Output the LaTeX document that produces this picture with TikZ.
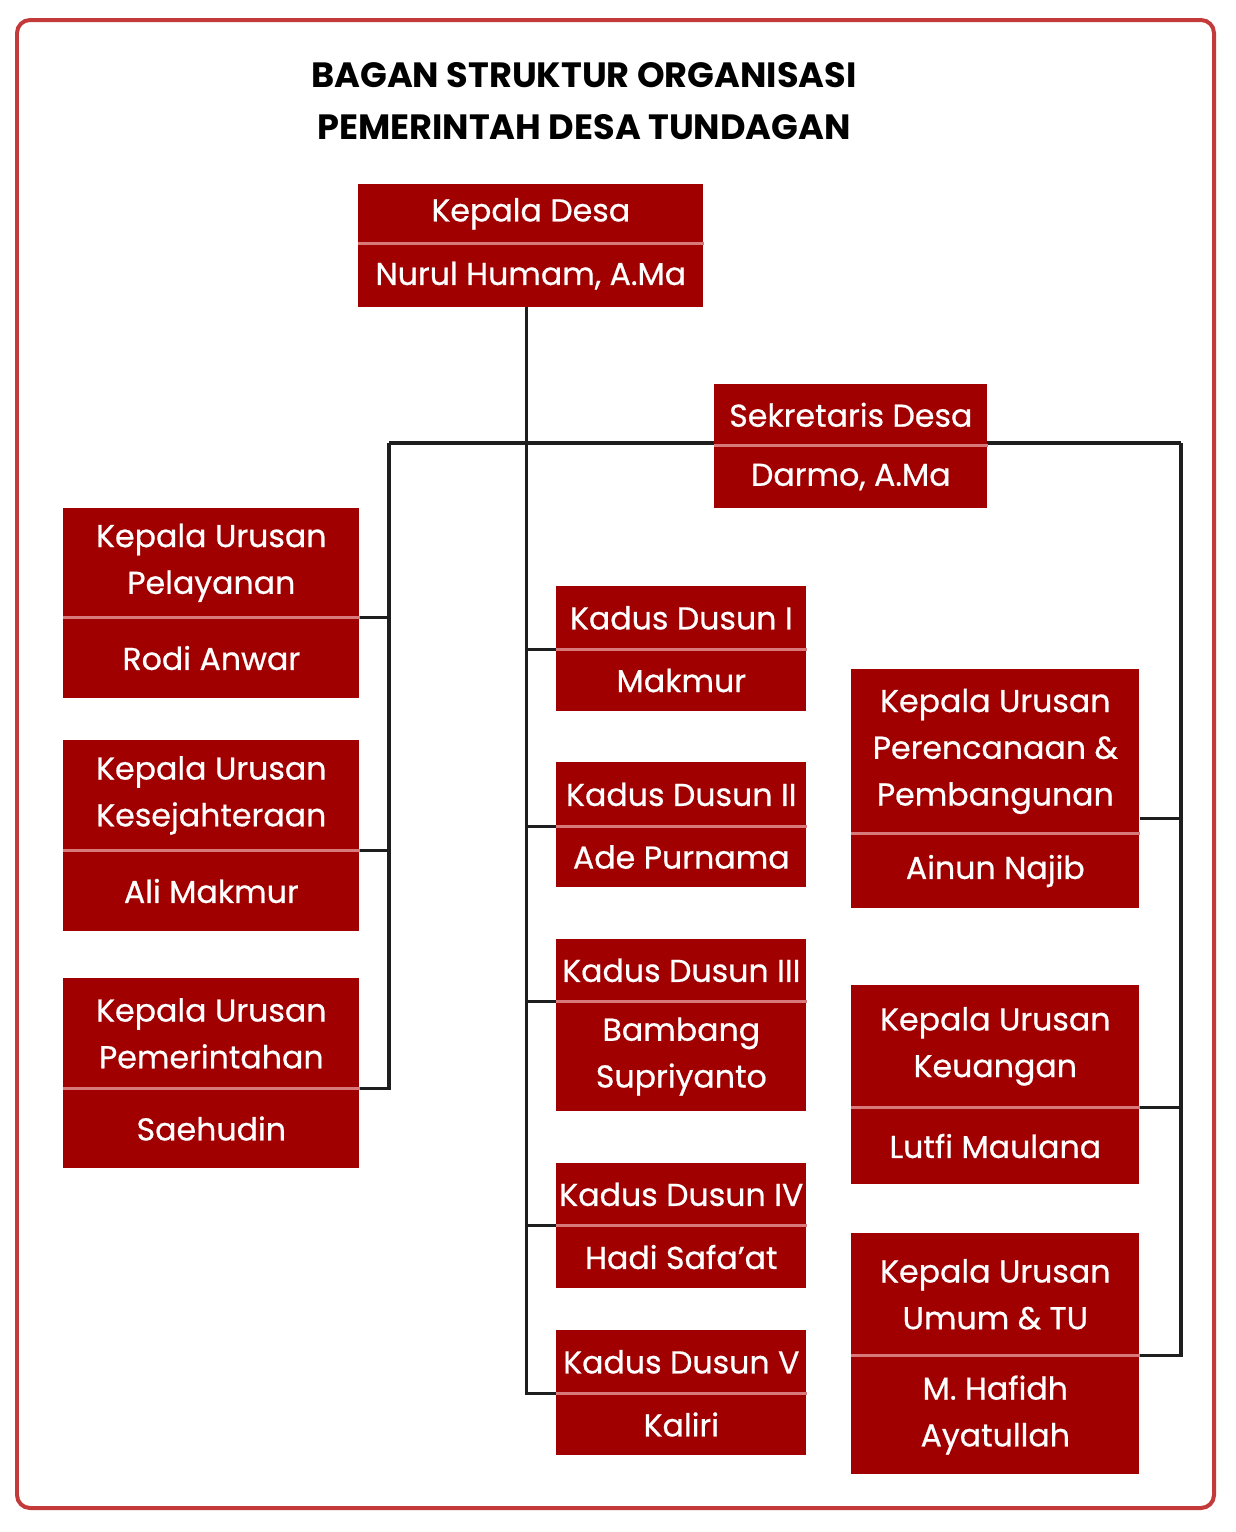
\documentclass[tikz,border=0pt]{standalone}
\usepackage{fontspec}
\setmainfont{Poppins}
\newfontfamily\boxfont{Poppins}[FakeBold=0.6]
\usepackage{xcolor}
\usepackage{tikz}
\usetikzlibrary{positioning,backgrounds}

\definecolor{boxred}{HTML}{A00000}
\definecolor{divpink}{HTML}{D87A7C}
\definecolor{framered}{HTML}{C43A3A}
\definecolor{linkgray}{HTML}{1E1E1E}

\begin{document}
\begin{tikzpicture}[x=0.02cm, y=-0.02cm, every node/.style={font=\boxfont\fontsize{18}{26.6}\selectfont}]
  % Styles
  \tikzstyle{titlebox}=[rectangle, fill=boxred, text=white, inner sep=0pt, align=center, anchor=north west]
  \tikzstyle{namebox}=[rectangle, fill=boxred, text=white, inner sep=0pt, align=center]
  \tikzstyle{leftcol}=[minimum width=5.92cm]
  \tikzstyle{midcol}=[minimum width=5cm]
  \tikzstyle{rightcol}=[minimum width=5.76cm]
  \tikzstyle{divline}=[draw=divpink, line width=0.06cm]
  \tikzstyle{link}=[draw=linkgray, line width=0.065cm]

  \useasboundingbox (0,0) rectangle (1236,1532);

  % Frame and title
  \draw[framered, line width=0.08cm, rounded corners=0.26cm] (17,20) rectangle (1214,1508);
  \node[font=\rmfamily\fontsize{20}{30}\selectfont\bfseries, align=center] (title) at (584,101)
    {BAGAN STRUKTUR ORGANISASI\\PEMERINTAH DESA TUNDAGAN};

  % Top
  \node[titlebox, minimum width=6.9cm, minimum height=1.18cm] (kades) at (358,184) {Kepala Desa};
  \node[namebox, minimum width=6.9cm, minimum height=1.26cm, below=0pt of kades] (kadesnm) {Nurul Humam, A.Ma};
  \node[titlebox, minimum width=5.46cm, minimum height=1.22cm] (sekdes) at (714,384) {Sekretaris Desa};
  \node[namebox, minimum width=5.46cm, minimum height=1.24cm, below=0pt of sekdes] (sekdesnm) {Darmo, A.Ma};

  % Left column
  \node[titlebox, leftcol, minimum height=2.18cm] (kaurpel) at (63,508) {Kepala Urusan\\Pelayanan};
  \node[namebox, leftcol, minimum height=1.6cm, below=0pt of kaurpel] (kaurpelnm) {Rodi Anwar};
  \node[titlebox, leftcol, minimum height=2.2cm] (kaurkes) at (63,740) {Kepala Urusan\\Kesejahteraan};
  \node[namebox, leftcol, minimum height=1.6cm, below=0pt of kaurkes] (kaurkesnm) {Ali Makmur};
  \node[titlebox, leftcol, minimum height=2.2cm] (kaurpem) at (63,978) {Kepala Urusan\\Pemerintahan};
  \node[namebox, leftcol, minimum height=1.58cm, below=0pt of kaurpem] (kaurpemnm) {Saehudin};

  % Middle column
  \node[titlebox, midcol, minimum height=1.26cm] (dusun1) at (556,586) {Kadus Dusun I};
  \node[namebox, midcol, minimum height=1.22cm, below=0pt of dusun1] (dusun1nm) {Makmur};
  \node[titlebox, midcol, minimum height=1.28cm] (dusun2) at (556,762) {Kadus Dusun II};
  \node[namebox, midcol, minimum height=1.2cm, below=0pt of dusun2] (dusun2nm) {Ade Purnama};
  \node[titlebox, midcol, minimum height=1.24cm] (dusun3) at (556,939) {Kadus Dusun III};
  \node[namebox, midcol, minimum height=2.18cm, below=0pt of dusun3] (dusun3nm) {Bambang\\Supriyanto};
  \node[titlebox, midcol, minimum height=1.24cm] (dusun4) at (556,1163) {Kadus Dusun IV};
  \node[namebox, midcol, minimum height=1.24cm, below=0pt of dusun4] (dusun4nm) {Hadi Safa’at};
  \node[titlebox, midcol, minimum height=1.26cm] (dusun5) at (556,1330) {Kadus Dusun V};
  \node[namebox, midcol, minimum height=1.22cm, below=0pt of dusun5] (dusun5nm) {Kaliri};

  % Right column
  \node[titlebox, rightcol, minimum height=3.28cm] (kaurren) at (851,669) {Kepala Urusan\\Perencanaan \&\\Pembangunan};
  \node[namebox, rightcol, minimum height=1.48cm, below=0pt of kaurren] (kaurrennm) {Ainun Najib};
  \node[titlebox, rightcol, minimum height=2.44cm] (kaurkeu) at (851,985) {Kepala Urusan\\Keuangan};
  \node[namebox, rightcol, minimum height=1.52cm, below=0pt of kaurkeu] (kaurkeunm) {Lutfi Maulana};
  \node[titlebox, rightcol, minimum height=2.44cm] (kaurumum) at (851,1233) {Kepala Urusan\\Umum \& TU};
  \node[namebox, rightcol, minimum height=2.36cm, below=0pt of kaurumum] (kaurumumnm) {M. Hafidh\\Ayatullah};

  % Dividers
  \foreach \b in {kades,sekdes,kaurpel,kaurkes,kaurpem,dusun1,dusun2,dusun3,dusun4,dusun5,kaurren,kaurkeu,kaurumum}
    \draw[divline] (\b.south west) -- (\b.south east);

  % Connectors
  \coordinate (trunk) at ([xshift=-0.08cm]kadesnm.south);
  \coordinate (lbus) at (389,443);
  \coordinate (rbus) at (1181,443);
  \begin{scope}[on background layer]
    \draw[link] (trunk) |- (dusun5.south west);
    \foreach \d in {dusun1,dusun2,dusun3,dusun4}
      \draw[link] (\d.south west) -- (\d.south west -| trunk);
    \draw[link] (lbus) -- (rbus);
    \draw[link] (lbus) |- (kaurpem.south east);
    \draw[link] (rbus) |- (kaurumum.south east);
    \foreach \k in {kaurpel,kaurkes}
      \draw[link] (\k.south east) -- (\k.south east -| lbus);
    \draw[link] (kaurkeu.south east) -- (kaurkeu.south east -| rbus);
    \draw[link] ([yshift=0.3cm]kaurren.south east) -- ([yshift=0.3cm]kaurren.south east -| rbus);
  \end{scope}
\end{tikzpicture}
\end{document}
